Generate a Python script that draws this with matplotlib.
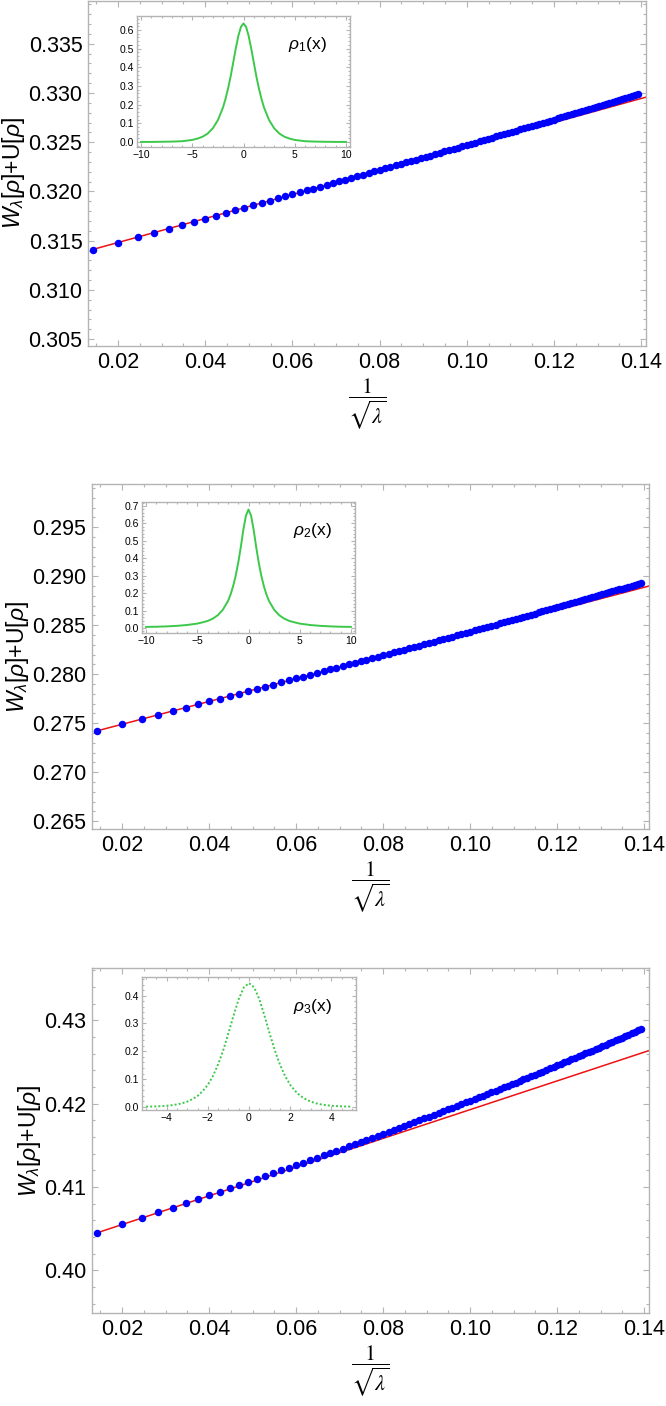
import numpy as np
import matplotlib
matplotlib.use('Agg')
import matplotlib.pyplot as plt
from matplotlib.ticker import MultipleLocator, FormatStrFormatter

plt.rcParams['font.family'] = ['Liberation Sans', 'DejaVu Sans']
plt.rcParams['mathtext.fontset'] = 'custom'
plt.rcParams['mathtext.rm'] = 'Liberation Sans'
plt.rcParams['mathtext.it'] = 'Liberation Sans:italic'

# x = 1/sqrt(lambda) (same for all panels)
inv_sqrt_lam = [
    0.01414, 0.02000, 0.02449, 0.02828, 0.03162, 0.03464, 0.03742, 0.04000, 0.04243, 0.04472,
    0.04690, 0.04899, 0.05099, 0.05292, 0.05477, 0.05657, 0.05831, 0.06000, 0.06164, 0.06325,
    0.06481, 0.06633, 0.06782, 0.06928, 0.07071, 0.07211, 0.07348, 0.07483, 0.07616, 0.07746,
    0.07874, 0.08000, 0.08124, 0.08246, 0.08367, 0.08485, 0.08602, 0.08718, 0.08832, 0.08944,
    0.09055, 0.09165, 0.09274, 0.09381, 0.09487, 0.09592, 0.09695, 0.09798, 0.09899, 0.10000,
    0.10100, 0.10198, 0.10296, 0.10392, 0.10488, 0.10583, 0.10677, 0.10770, 0.10863, 0.10954,
    0.11045, 0.11136, 0.11225, 0.11314, 0.11402, 0.11489, 0.11576, 0.11662, 0.11747, 0.11832,
    0.11916, 0.12000, 0.12083, 0.12166, 0.12247, 0.12329, 0.12410, 0.12490, 0.12570, 0.12649,
    0.12728, 0.12806, 0.12884, 0.12961, 0.13038, 0.13115, 0.13191, 0.13266, 0.13342, 0.13416,
    0.13491, 0.13565, 0.13638, 0.13711, 0.13784, 0.13856, 0.13928]

energy_1 = [
    0.31410, 0.31481, 0.31536, 0.31582, 0.31623, 0.31660, 0.31694, 0.31725, 0.31755, 0.31783,
    0.31810, 0.31836, 0.31860, 0.31884, 0.31907, 0.31929, 0.31950, 0.31971, 0.31991, 0.32011,
    0.32030, 0.32049, 0.32068, 0.32086, 0.32103, 0.32121, 0.32138, 0.32155, 0.32171, 0.32187,
    0.32203, 0.32219, 0.32234, 0.32250, 0.32265, 0.32280, 0.32295, 0.32309, 0.32323, 0.32338,
    0.32352, 0.32365, 0.32379, 0.32393, 0.32406, 0.32420, 0.32433, 0.32446, 0.32459, 0.32472,
    0.32484, 0.32497, 0.32510, 0.32522, 0.32534, 0.32546, 0.32559, 0.32571, 0.32583, 0.32594,
    0.32606, 0.32618, 0.32630, 0.32641, 0.32653, 0.32664, 0.32675, 0.32687, 0.32698, 0.32709,
    0.32720, 0.32731, 0.32742, 0.32753, 0.32764, 0.32775, 0.32786, 0.32796, 0.32807, 0.32818,
    0.32828, 0.32839, 0.32849, 0.32860, 0.32870, 0.32880, 0.32891, 0.32901, 0.32911, 0.32921,
    0.32931, 0.32941, 0.32951, 0.32961, 0.32971, 0.32981, 0.32991]

energy_2 = [
    0.27420, 0.27488, 0.27540, 0.27585, 0.27624, 0.27659, 0.27691, 0.27721, 0.27750, 0.27777,
    0.27802, 0.27827, 0.27850, 0.27873, 0.27894, 0.27915, 0.27936, 0.27956, 0.27975, 0.27994,
    0.28012, 0.28031, 0.28048, 0.28065, 0.28082, 0.28099, 0.28115, 0.28131, 0.28147, 0.28162,
    0.28178, 0.28193, 0.28208, 0.28222, 0.28237, 0.28251, 0.28265, 0.28279, 0.28292, 0.28306,
    0.28319, 0.28333, 0.28346, 0.28359, 0.28372, 0.28384, 0.28397, 0.28409, 0.28422, 0.28434,
    0.28446, 0.28458, 0.28470, 0.28482, 0.28494, 0.28506, 0.28517, 0.28529, 0.28540, 0.28551,
    0.28563, 0.28574, 0.28585, 0.28596, 0.28607, 0.28618, 0.28629, 0.28640, 0.28650, 0.28661,
    0.28672, 0.28682, 0.28693, 0.28703, 0.28713, 0.28724, 0.28734, 0.28744, 0.28755, 0.28765,
    0.28775, 0.28785, 0.28795, 0.28805, 0.28815, 0.28825, 0.28834, 0.28844, 0.28854, 0.28864,
    0.28873, 0.28883, 0.28893, 0.28902, 0.28912, 0.28921, 0.28931]

energy_3 = [
    0.40450, 0.40552, 0.40630, 0.40696, 0.40755, 0.40808, 0.40857, 0.40902, 0.40946, 0.40987,
    0.41026, 0.41063, 0.41099, 0.41134, 0.41168, 0.41201, 0.41233, 0.41264, 0.41294, 0.41324,
    0.41353, 0.41381, 0.41409, 0.41436, 0.41463, 0.41489, 0.41516, 0.41541, 0.41566, 0.41591,
    0.41616, 0.41640, 0.41664, 0.41688, 0.41711, 0.41734, 0.41757, 0.41780, 0.41802, 0.41825,
    0.41847, 0.41869, 0.41890, 0.41912, 0.41933, 0.41954, 0.41975, 0.41996, 0.42017, 0.42037,
    0.42058, 0.42078, 0.42098, 0.42118, 0.42138, 0.42158, 0.42177, 0.42197, 0.42216, 0.42236,
    0.42255, 0.42274, 0.42293, 0.42312, 0.42331, 0.42350, 0.42368, 0.42387, 0.42405, 0.42424,
    0.42442, 0.42460, 0.42479, 0.42497, 0.42515, 0.42533, 0.42551, 0.42568, 0.42586, 0.42604,
    0.42622, 0.42639, 0.42657, 0.42674, 0.42692, 0.42709, 0.42727, 0.42744, 0.42761, 0.42778,
    0.42795, 0.42812, 0.42830, 0.42846, 0.42863, 0.42880, 0.42897]

# red straight-line fits (end points)
fit_x = [0.01414, 0.14110]
fit_1 = [0.31410, 0.32958]
fit_2 = [0.27420, 0.28899]
fit_3 = [0.40450, 0.42639]

# inset density profiles
rho_x = [-10, -9, -8, -7, -6, -5, -4.5, -4, -3.5, -3, -2.5, -2, -1.75, -1.5, -1.25, -1,
         -0.75, -0.5, -0.25, 0, 0.25, 0.5, 0.75, 1, 1.25, 1.5, 1.75, 2, 2.5, 3, 3.5, 4,
         4.5, 5, 6, 7, 8, 9, 10]
rho_1 = [0.0001, 0.0003, 0.001, 0.002, 0.004, 0.011, 0.018, 0.028, 0.045, 0.073, 0.117,
         0.185, 0.232, 0.288, 0.353, 0.427, 0.502, 0.569, 0.617, 0.635, 0.617, 0.569, 0.502,
         0.427, 0.353, 0.288, 0.232, 0.185, 0.117, 0.073, 0.045, 0.028, 0.018, 0.011, 0.004,
         0.002, 0.001, 0.0003, 0.0001]
rho_2 = [0.006, 0.007, 0.009, 0.012, 0.017, 0.025, 0.032, 0.040, 0.053, 0.073, 0.105,
         0.155, 0.192, 0.240, 0.300, 0.375, 0.465, 0.565, 0.645, 0.680, 0.645, 0.565, 0.465,
         0.375, 0.300, 0.240, 0.192, 0.155, 0.105, 0.073, 0.053, 0.040, 0.032, 0.025, 0.017,
         0.012, 0.009, 0.007, 0.006]
rho3_x = [-5, -4.75, -4.5, -4.25, -4, -3.75, -3.5, -3.25, -3, -2.75, -2.5, -2.25, -2, -1.75,
          -1.5, -1.25, -1, -0.75, -0.5, -0.25, 0, 0.25, 0.5, 0.75, 1, 1.25, 1.5, 1.75, 2,
          2.25, 2.5, 2.75, 3, 3.25, 3.5, 3.75, 4, 4.25, 4.5, 4.75, 5]
rho_3 = [0.0010, 0.0014, 0.0020, 0.0030, 0.0043, 0.0063, 0.0091, 0.0132, 0.0191, 0.0279,
         0.0395, 0.0568, 0.0794, 0.1115, 0.1530, 0.2044, 0.2649, 0.3287, 0.3877, 0.4297,
         0.4450, 0.4297, 0.3877, 0.3287, 0.2649, 0.2044, 0.1530, 0.1115, 0.0794, 0.0568,
         0.0395, 0.0279, 0.0191, 0.0132, 0.0091, 0.0063, 0.0043, 0.0030, 0.0020, 0.0014,
         0.0010]

W, H = 666, 1406
FRAME = '#b4b4b4'
GREEN = '#3cc84a'


def px_box(left, top, right, bottom):
    return [left / W, 1 - bottom / H, (right - left) / W, (bottom - top) / H]


def style_frame(ax, labelsize, length, pad):
    for sp in ax.spines.values():
        sp.set_color(FRAME)
        sp.set_linewidth(1.0)
    ax.tick_params(which='both', direction='in', top=True, right=True,
                   color=FRAME, labelsize=labelsize, pad=pad, width=0.8)
    ax.tick_params(which='major', length=length)
    ax.tick_params(which='minor', length=length * 0.55)


fig = plt.figure(figsize=(W / 100, H / 100), dpi=100)

panels = [
    dict(box=(88, 0.5, 646, 346), y=energy_1, fit=fit_1, ylim=(0.3043, 0.3394),
         ymaj=0.005, ymin=0.001, yfmt='%.3f',
         inset=(137, 16, 350, 147), rx=rho_x, ry=rho_1, rxlim=(-10.4, 10.4),
         rylim=(-0.027, 0.675), rxmaj=5, rxmin=1, rlab=r'$\rho_1$(x)', rlab_xy=(307, 45),
         dotted=False),
    dict(box=(92, 484, 649, 829), y=energy_2, fit=fit_2, ylim=(0.2642, 0.2994),
         ymaj=0.005, ymin=0.001, yfmt='%.3f',
         inset=(142, 502, 355, 633), rx=rho_x, ry=rho_2, rxlim=(-10.4, 10.4),
         rylim=(-0.029, 0.723), rxmaj=5, rxmin=1, rlab=r'$\rho_2$(x)', rlab_xy=(312, 530),
         dotted=False),
    dict(box=(92, 968, 649, 1313), y=energy_3, fit=fit_3, ylim=(0.3949, 0.4363),
         ymaj=0.01, ymin=0.002, yfmt='%.2f',
         inset=(142, 977, 356, 1110), rx=rho3_x, ry=rho_3, rxlim=(-5.2, 5.2),
         rylim=(-0.011, 0.467), rxmaj=2, rxmin=0.5, rlab=r'$\rho_3$(x)', rlab_xy=(312, 1007),
         dotted=True),
]

for p in panels:
    ax = fig.add_axes(px_box(*p['box']))
    ax.plot(fit_x, p['fit'], color='#ee1111', lw=1.1, zorder=2)
    ax.plot(inv_sqrt_lam, p['y'], 'o', color='#0000ff', ms=5.4, mew=0, zorder=3)
    ax.set_xlim(0.0131, 0.1411)
    ax.set_ylim(*p['ylim'])
    ax.xaxis.set_major_locator(MultipleLocator(0.02))
    ax.xaxis.set_minor_locator(MultipleLocator(0.005))
    ax.xaxis.set_major_formatter(FormatStrFormatter('%.2f'))
    ax.yaxis.set_major_locator(MultipleLocator(p['ymaj']))
    ax.yaxis.set_minor_locator(MultipleLocator(p['ymin']))
    ax.yaxis.set_major_formatter(FormatStrFormatter(p['yfmt']))
    style_frame(ax, 15.5, 4.5, 4)
    ax.set_ylabel(r'$W_{\lambda}[\rho]$+U[$\rho$]', fontsize=16.5, labelpad=1)
    ax.set_xlabel(r'$\dfrac{1}{\sqrt{\lambda}}$', fontsize=16, labelpad=3,
                  math_fontfamily='stix')

    # inset with the density profile
    ins = fig.add_axes(px_box(*p['inset']))
    if p['dotted']:
        ins.plot(p['rx'], p['ry'], color=GREEN, lw=1.4, ls=(0, (1, 1.1)))
    else:
        ins.plot(p['rx'], p['ry'], color=GREEN, lw=1.4)
    ins.set_xlim(*p['rxlim'])
    ins.set_ylim(*p['rylim'])
    ins.xaxis.set_major_locator(MultipleLocator(p['rxmaj']))
    ins.xaxis.set_minor_locator(MultipleLocator(p['rxmin']))
    ins.yaxis.set_major_locator(MultipleLocator(0.1))
    ins.yaxis.set_minor_locator(MultipleLocator(0.02))
    ins.yaxis.set_major_formatter(FormatStrFormatter('%.1f'))
    style_frame(ins, 7.5, 3, 2)
    fig.text(p['rlab_xy'][0] / W, 1 - p['rlab_xy'][1] / H, p['rlab'],
             fontsize=12.5, ha='center', va='center')

fig.savefig('out.png', dpi=100)
